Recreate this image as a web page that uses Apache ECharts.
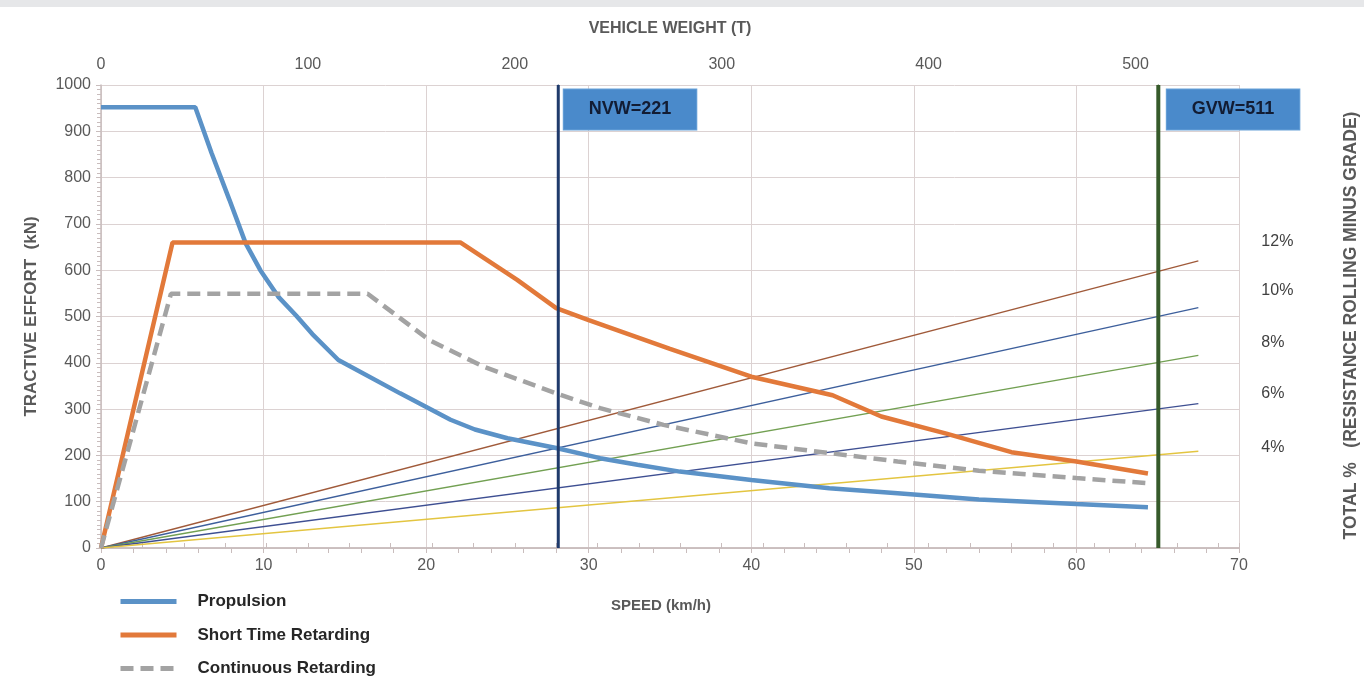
<!DOCTYPE html>
<html><head><meta charset="utf-8">
<script src="https://cdn.jsdelivr.net/npm/echarts@6/dist/echarts.min.js"></script>
<style>html,body{margin:0;padding:0;background:#fff;}#c{width:1364px;height:678px;}#strip{position:absolute;left:0;top:0;width:1364px;height:7px;background:#e6e7e9;}</style>
</head><body><div id="c"></div><div id="strip"></div>
<script>
// Speed (km/h) vs tractive effort (kN)
const propulsion = [[0,952],[5.8,952],[6.8,853],[7.9,752],[8.9,658],[9.8,600],[10.9,543],[12,502],[13,462],[14.6,406],[18.4,334],[21.5,277],[23,256],[25,237],[28,216],[30.7,194],[33,180],[35.6,165],[40,147],[44.8,129],[49,118],[54,105],[60,95],[64.4,88]];
const shortTimeRetarding = [[0,0],[4.4,660],[22.1,660],[25.6,579],[28,518],[30,492],[35,430],[40,370],[45,330],[48,284],[52,247],[56,207],[60,187],[64.4,161]];
const continuousRetarding = [[0,0],[4.3,549],[16.4,549],[20.2,449],[23.5,392],[28,334],[30.7,302],[34.6,266],[40,226],[44.8,205],[49,187],[54,167],[60,151],[64.4,140]];
// Grade resistance lines (speed, kN)
const gradeNames = ['12%','10%','8%','6%','4%'];
const gradeEndSpeed = 67.5;
const gradeEndValues = [620,519,416,312,209];
// Vehicle weight markers (T)
const markerNames = ['NVW','GVW'];
const markerWeights = [221,511];
// Axis ranges
const speedRange = [0,70];
const weightRange = [0,550];
const effortRange = [0,1000];

const gradeColors = ['#a05a3a','#3d5f9c','#72a052','#3e4f92','#e3c541'];
const gradeLabelDy = [-19,-17,-13,-10,-4];
const markerColors = ['#1f3a6b','#365a2a'];
const markerWidths = [3,4];
const markerLabelPos = [[6,5],[9,5]];
const boxColor = '#4a8acb';

const FONT = "'Liberation Sans', Arial, sans-serif";
const gridColor = '#dcd2d2';
const axisColor = '#c9bdbd';
const labelColor = '#595959';

const series = [];
gradeNames.forEach((g,i)=>{
  series.push({
    name: g, type:'line', xAxisIndex:0, yAxisIndex:0, symbol:'none', silent:true,
    data: [[0,0],[gradeEndSpeed, gradeEndValues[i]]],
    lineStyle:{color:gradeColors[i], width:1.3},
    endLabel:{show:true, formatter:g, distance:63, offset:[0,gradeLabelDy[i]], color:'#404040', fontSize:16, fontFamily:FONT}
  });
});
series.push({name:'Propulsion', type:'line', symbol:'none', data:propulsion, lineStyle:{color:'#5b92c7', width:4.5}, itemStyle:{color:'#5b92c7'}, z:5});
series.push({name:'Short Time Retarding', type:'line', symbol:'none', data:shortTimeRetarding, lineStyle:{color:'#e2793a', width:4.5}, itemStyle:{color:'#e2793a'}, z:5});
series.push({name:'Continuous Retarding', type:'line', symbol:'none', data:continuousRetarding, lineStyle:{color:'#a3a3a3', width:4.5, type:[13,7]}, itemStyle:{color:'#a3a3a3'}, z:5});
markerNames.forEach((m,i)=>{
  series.push({
    name:m+'line', type:'line', xAxisIndex:1, yAxisIndex:0, symbol:'none', silent:true, z:6,
    data:[[markerWeights[i],effortRange[0]],[markerWeights[i],effortRange[1]]],
    lineStyle:{color:markerColors[i], width:markerWidths[i]}
  });
  series.push({
    name:m+'box', type:'scatter', xAxisIndex:1, yAxisIndex:0, symbol:'rect', symbolSize:1, silent:true, z:7,
    itemStyle:{color:markerColors[i], opacity:1},
    data:[[markerWeights[i],effortRange[1]]],
    label:{show:true, position:markerLabelPos[i], formatter:m+'='+markerWeights[i],
      backgroundColor:boxColor, borderColor:'#69a2d8', borderWidth:1,
      padding:[11,25,11,25], fontSize:18, fontWeight:'bold', color:'#121c33', fontFamily:FONT, lineHeight:18}
  });
});

const chart = echarts.init(document.getElementById('c'), null, {renderer:'canvas'});
chart.setOption({
  animation:false,
  backgroundColor:'#ffffff',
  textStyle:{fontFamily:FONT},
  grid:{left:101, right:125, top:85, bottom:130, containLabel:false, outerBoundsMode:'none'},
  legend:{
    data:['Propulsion','Short Time Retarding','Continuous Retarding'],
    orient:'vertical', left:118, top:593, height:90, padding:0, itemWidth:56, itemHeight:14, itemGap:16.5,
    itemStyle:{opacity:0},
    lineStyle:{width:5},
    textStyle:{fontSize:17, fontWeight:'bold', color:'#262626', padding:[0,0,0,16], fontFamily:FONT}
  },
  xAxis:[
    {type:'value', position:'bottom', min:speedRange[0], max:speedRange[1], interval:10,
      name:'SPEED (km/h)', nameLocation:'middle', nameGap:50,
      nameTextStyle:{fontSize:15, fontWeight:'bold', color:labelColor, padding:[0,18,0,0]},
      axisLine:{lineStyle:{color:axisColor, width:1.5}},
      axisTick:{show:true, length:5, lineStyle:{color:axisColor}},
      minorTick:{show:true, splitNumber:5, length:5, lineStyle:{color:axisColor}},
      axisLabel:{fontSize:16, color:labelColor, margin:10},
      splitLine:{show:true, lineStyle:{color:gridColor, width:1}}},
    {type:'value', position:'top', min:weightRange[0], max:weightRange[1], interval:20,
      name:'VEHICLE WEIGHT (T)', nameLocation:'middle', nameGap:48,
      nameTextStyle:{fontSize:16, fontWeight:'bold', color:labelColor},
      axisLine:{lineStyle:{color:axisColor, width:1.5}},
      axisTick:{show:true, length:5, lineStyle:{color:axisColor}},
      axisLabel:{fontSize:16, color:labelColor, margin:12, formatter:(v)=> (v%100===0 ? String(v) : '')},
      splitLine:{show:false}}
  ],
  yAxis:[
    {type:'value', position:'left', min:effortRange[0], max:effortRange[1], interval:100,
      name:'TRACTIVE EFFORT  (kN)', nameLocation:'middle', nameGap:61, nameRotate:90,
      nameTextStyle:{fontSize:17, fontWeight:'bold', color:labelColor},
      axisLine:{show:true, lineStyle:{color:axisColor, width:1.5}},
      axisTick:{show:true, length:5, lineStyle:{color:axisColor}},
      minorTick:{show:true, splitNumber:10, length:4, lineStyle:{color:axisColor}},
      axisLabel:{fontSize:16, color:labelColor, margin:10, formatter:(v)=>String(v)},
      splitLine:{show:true, lineStyle:{color:gridColor, width:1}}},
    {type:'value', position:'right', min:effortRange[0], max:effortRange[1],
      name:'TOTAL %   (RESISTANCE ROLLING MINUS GRADE)', nameLocation:'middle', nameGap:103, nameRotate:90,
      nameTextStyle:{fontSize:17.5, fontWeight:'bold', color:labelColor, padding:[0,0,0,-18]},
      axisLine:{show:false}, axisTick:{show:false}, axisLabel:{show:false}, splitLine:{show:false}}
  ],
  series: series
});
</script></body></html>
